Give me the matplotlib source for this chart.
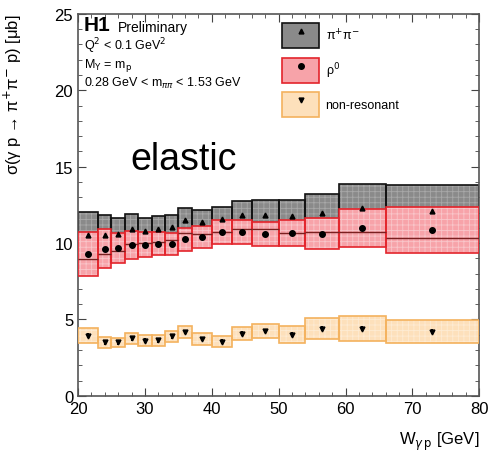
import matplotlib
matplotlib.use("Agg")
import matplotlib.pyplot as plt
import numpy as np
from matplotlib.patches import Rectangle, Patch
from matplotlib.lines import Line2D
from matplotlib.ticker import MultipleLocator

plt.rcParams['font.family'] = ['Liberation Sans', 'DejaVu Sans']
plt.rcParams['hatch.linewidth'] = 0.6

# W bins [GeV]
edges = [20, 23, 25, 27, 29, 31, 33, 35, 37, 40, 43, 46, 50, 54, 59, 66, 80]

# pi+pi- total
pipi = [10.50, 10.54, 10.58, 10.91, 10.82, 10.93, 11.04, 11.48, 11.37, 11.55,
        11.85, 11.85, 11.74, 11.98, 12.29, 12.07]
pipi_err = [1.53, 1.27, 1.08, 0.97, 0.84, 0.84, 0.82, 0.83, 0.77, 0.81,
            0.90, 0.94, 1.05, 1.25, 1.59, 1.75]

# rho0
rho = [9.30, 9.63, 9.69, 9.89, 9.89, 9.95, 9.95, 10.24, 10.39, 10.72,
       10.72, 10.61, 10.65, 10.61, 11.00, 10.85]
rho_err = [1.44, 1.27, 1.00, 0.90, 0.83, 0.76, 0.74, 0.73, 0.72, 0.76,
           0.78, 0.78, 0.86, 1.00, 1.25, 1.52]

# non-resonant
nonres = [3.95, 3.50, 3.50, 3.77, 3.62, 3.64, 3.90, 4.17, 3.73, 3.55,
          4.08, 4.25, 4.00, 4.39, 4.39, 4.21]
nonres_err = [0.47, 0.37, 0.31, 0.35, 0.34, 0.35, 0.35, 0.37, 0.37, 0.36,
              0.41, 0.47, 0.55, 0.69, 0.82, 0.74]
nonres_stat = [0.15] * 16

lo = np.array(edges[:-1])
hi = np.array(edges[1:])
centers = (lo + hi) / 2

fig = plt.figure(figsize=(4.91, 4.52), dpi=100)
ax = fig.add_axes([0.159, 0.122, 0.817, 0.845])


def boxes(vals, errs, face, hatchc, edge, z):
    for l, h, v, e in zip(lo, hi, vals, errs):
        ax.add_patch(Rectangle((l, v - e), h - l, 2 * e, facecolor=face,
                               edgecolor=hatchc, hatch='+++', lw=0, zorder=z))
        ax.add_patch(Rectangle((l, v - e), h - l, 2 * e, fill=False,
                               edgecolor=edge, lw=1.2, zorder=z + 0.1))


boxes(pipi, pipi_err, '#8a8a8a', '#a8a8a8', '#111111', 2)
boxes(rho, rho_err, '#f7a3a9', '#f9c6ca', '#e3242b', 3)
boxes(nonres, nonres_err, '#fde0bb', '#fdebd3', '#f4b25e', 3)

# lower edge of the pi+pi- band shows through the rho0 band
ax.hlines(np.array(pipi) - np.array(pipi_err), lo, hi, color='#7a2020',
          lw=1.0, zorder=3.5)

ax.plot(centers, pipi, '^', color='black', ms=3.5, zorder=5)
ax.plot(centers, rho, 'o', color='black', ms=4, zorder=5)
ax.errorbar(centers, nonres, yerr=nonres_stat, fmt='v', color='black', ms=3.5,
            elinewidth=1.5, capsize=0, zorder=5)

ax.set_xlim(20, 80)
ax.set_ylim(0, 25)
ax.xaxis.set_major_locator(MultipleLocator(10))
ax.xaxis.set_minor_locator(MultipleLocator(2))
ax.yaxis.set_major_locator(MultipleLocator(5))
ax.yaxis.set_minor_locator(MultipleLocator(1))
ax.tick_params(which='both', direction='in', top=True, right=True, labelsize=12,
               color='#444444')
ax.tick_params(which='major', length=6)
ax.tick_params(which='minor', length=3)
for s in ax.spines.values():
    s.set_color('#555555')
    s.set_linewidth(1.2)

ax.set_xlabel(r'W$_{\gamma\,\mathrm{p}}$ [GeV]', fontsize=12, loc='right')
ax.set_ylabel('σ(γ p → π$^{+}$π$^{-}$ p) [μb]', fontsize=12, loc='top')
ax.yaxis.set_label_coords(-0.135, 1.0)
ax.xaxis.set_label_coords(1.0, -0.09)

ax.text(0.015, 0.997, 'H1', transform=ax.transAxes, fontsize=15,
        fontweight='bold', va='top')
ax.text(0.1, 0.985, 'Preliminary', transform=ax.transAxes, fontsize=10, va='top')
ax.text(0.015, 0.945, r'Q$^2$ < 0.1 GeV$^2$', transform=ax.transAxes, fontsize=9,
        va='top')
ax.text(0.015, 0.89, r'M$_\mathrm{Y}$ = m$_\mathrm{p}$', transform=ax.transAxes,
        fontsize=9, va='top')
ax.text(0.015, 0.84, '0.28 GeV < m$_{ππ}$ < 1.53 GeV',
        transform=ax.transAxes, fontsize=9, va='top')
ax.text(0.13, 0.62, 'elastic', transform=ax.transAxes, fontsize=27,
        va='center')

handles = [
    (Patch(facecolor='#8a8a8a', edgecolor='#111111', lw=1.2),
     Line2D([], [], marker='^', color='black', ls='none', ms=3.5)),
    (Patch(facecolor='#f7a3a9', edgecolor='#e3242b', lw=1.2),
     Line2D([], [], marker='o', color='black', ls='none', ms=4)),
    (Patch(facecolor='#fde0bb', edgecolor='#f4b25e', lw=1.2),
     Line2D([], [], marker='v', color='black', ls='none', ms=3.5)),
]
ax.legend(handles, ['π$^{+}$π$^{-}$', 'ρ$^{0}$', 'non-resonant'],
          loc='upper left', bbox_to_anchor=(0.48, 1.005), frameon=False,
          fontsize=9, handlelength=3.0, handleheight=2.7, labelspacing=0.75,
          handletextpad=0.5)

fig.savefig('out.png', dpi=100)
